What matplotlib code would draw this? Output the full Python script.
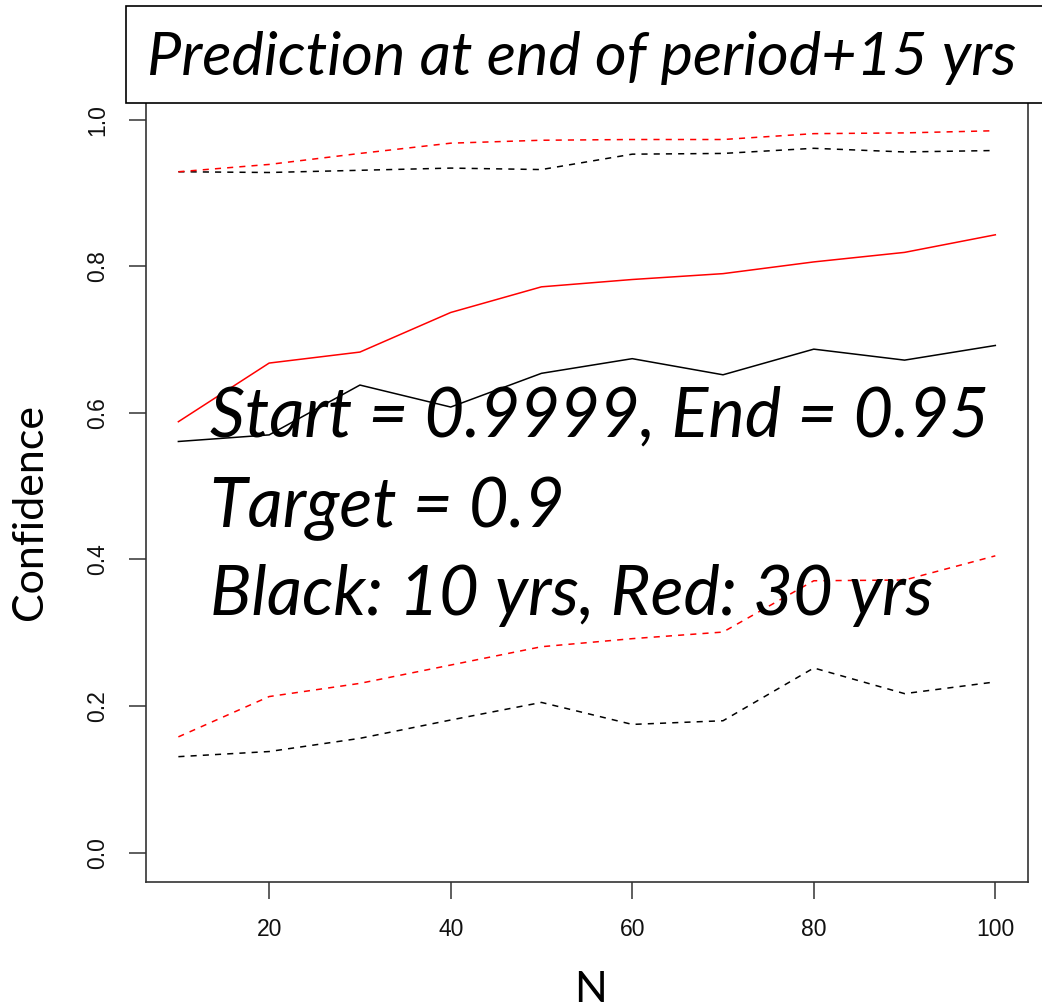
import matplotlib
matplotlib.use("Agg")
import matplotlib.pyplot as plt
from matplotlib.patches import Rectangle

# sample sizes
n_vals = [10, 20, 30, 40, 50, 60, 70, 80, 90, 100]

# black = 10 yrs, red = 30 yrs
black_mid = [0.561, 0.570, 0.638, 0.608, 0.654, 0.674, 0.652, 0.687, 0.672, 0.692]
black_hi = [0.929, 0.928, 0.931, 0.934, 0.932, 0.953, 0.954, 0.961, 0.956, 0.958]
black_lo = [0.131, 0.138, 0.156, 0.181, 0.205, 0.175, 0.180, 0.252, 0.217, 0.233]

red_mid = [0.588, 0.668, 0.683, 0.737, 0.772, 0.782, 0.790, 0.806, 0.819, 0.843]
red_hi = [0.929, 0.939, 0.954, 0.968, 0.972, 0.973, 0.973, 0.981, 0.982, 0.985]
red_lo = [0.158, 0.213, 0.231, 0.256, 0.281, 0.292, 0.301, 0.371, 0.372, 0.405]

x_ticks = [20, 40, 60, 80, 100]
y_ticks = [0.0, 0.2, 0.4, 0.6, 0.8, 1.0]

W, H = 1042, 1007
fig = plt.figure(figsize=(W / 100, H / 100), dpi=100)
fig.patch.set_facecolor("white")

ax = fig.add_axes([145.7 / W, 1 - 882 / H, (1028 - 145.7) / W, (882 - 90.4) / H])

lw = 1.1
ax.plot(n_vals, black_mid, color="black", lw=lw)
ax.plot(n_vals, red_mid, color="red", lw=lw)
for s, c in [(black_hi, "black"), (black_lo, "black"), (red_hi, "red"), (red_lo, "red")]:
    ax.plot(n_vals, s, color=c, lw=lw, ls=(0, (4, 4)))

ax.set_xlim(6.4, 103.6)
ax.set_ylim(-0.04, 1.04)
ax.set_xticks(x_ticks)
ax.set_yticks(y_ticks)
ax.set_yticklabels([f"{v:.1f}" for v in y_ticks], rotation=90, va="center")
ax.tick_params(length=12, width=1.1, color="#333333", labelsize=16.5,
               labelcolor="#111111")
ax.tick_params(axis="x", pad=14)
ax.tick_params(axis="y", pad=14)
for t in ax.get_xticklabels() + ax.get_yticklabels():
    t.set_family("Liberation Sans")
for sp in ax.spines.values():
    sp.set_color("#333333")
    sp.set_linewidth(1.2)

# axis labels
fig.text(30 / W, 1 - 512 / H, "Confidence", rotation=90, ha="center", va="center",
         fontsize=31, family="Lato")
fig.text(590 / W, 1 - 990 / H, "N", ha="center", va="center",
         fontsize=31, family="Lato")

# title box
fig.add_artist(Rectangle((126 / W, 1 - 103 / H), 1.0, (103 - 6) / H,
                         transform=fig.transFigure, facecolor="white",
                         edgecolor="black", lw=1.2, zorder=5))
fig.text(582 / W, 1 - 75 / H, "Prediction at end of period+15 yrs", ha="center",
         va="baseline", fontsize=44, style="italic", family="Lato", zorder=6)

# annotation
notes = ["Start = 0.9999, End = 0.95", "Target = 0.9", "Black: 10 yrs, Red: 30 yrs"]
baselines = [437, 527, 615]
for txt, b in zip(notes, baselines):
    fig.text(210 / W, 1 - b / H, txt, ha="left", va="baseline", fontsize=49.5,
             style="italic", family="Lato", zorder=6)

fig.savefig("out.png", dpi=100)
